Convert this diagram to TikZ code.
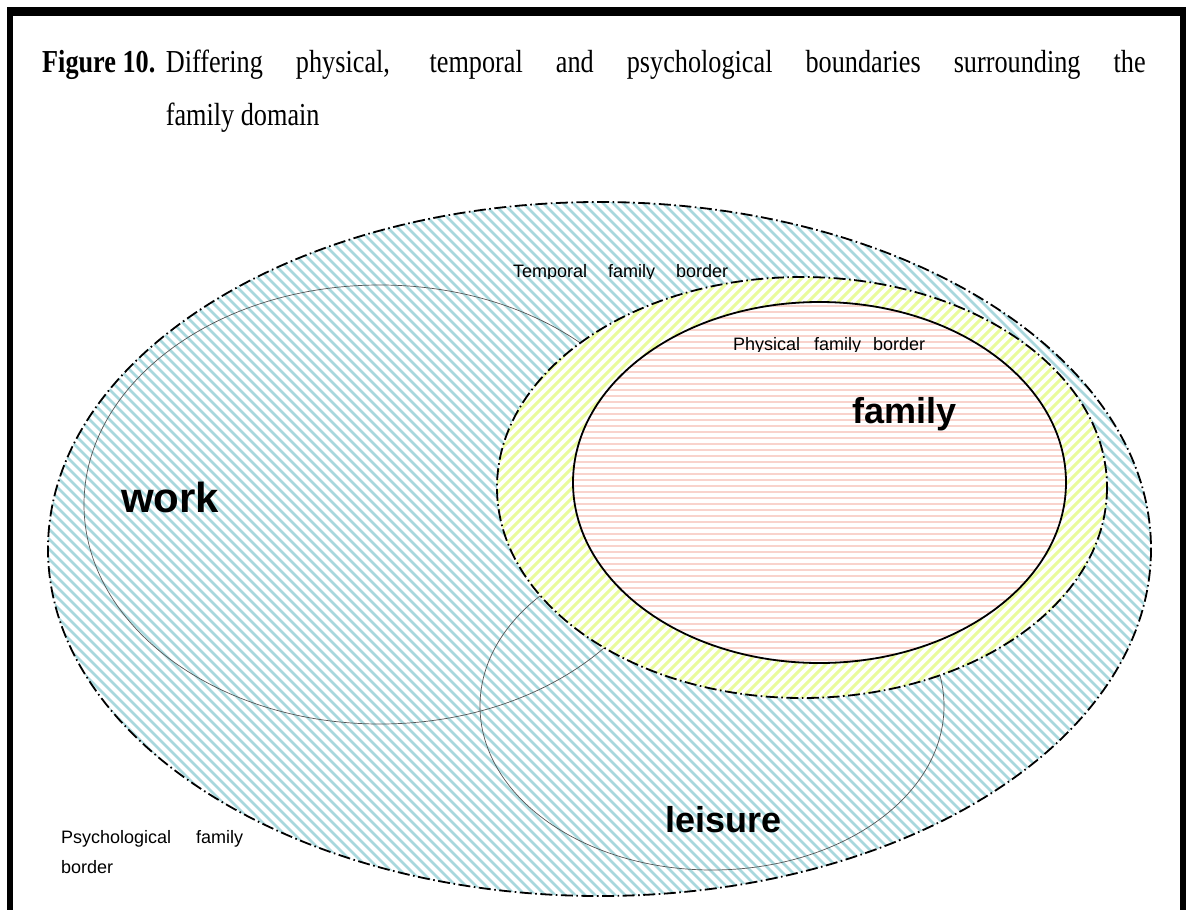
\documentclass[tikz,border=0pt]{standalone}
\usepackage{fontspec}
\setmainfont{Liberation Serif}
\newfontfamily\lblfont{Liberation Sans}
\newfontfamily\titlefont[FakeStretch=0.82]{Liberation Serif}
\definecolor{hblue}{HTML}{A9D8DD}
\definecolor{hyellow}{HTML}{EAFB9C}
\definecolor{hpink}{HTML}{F9D3CC}
\definecolor{thin}{HTML}{555555}
\newlength\figlabw
\tikzset{
  dashdot/.style={line width=1.8pt, dash pattern=on 12pt off 3.5pt on 1.6pt off 3.5pt},
  thinline/.style={draw=thin, line width=0.7pt},
  small/.style={inner sep=0pt, anchor=base west, font=\lblfont\fontsize{18}{22}\selectfont},
  big/.style={inner sep=0pt, anchor=base west, font=\lblfont\bfseries\fontsize{36}{40}\selectfont},
  ttl/.style={inner sep=0pt, anchor=base west, font=\titlefont\fontsize{32}{40}\selectfont},
}
\begin{document}
\settowidth\figlabw{\titlefont\bfseries\fontsize{32}{40}\selectfont Figure 10.}
\begin{tikzpicture}[x=1pt,y=-1pt]
\useasboundingbox (0,0) rectangle (1186,910);
\fill[white] (0,0) rectangle (1186,910);
% frame
\fill[black] (7,7) rectangle (1186,16);
\fill[black] (7,7) rectangle (13,910);
\fill[black] (1180,7) rectangle (1186,910);
% title
\node[ttl, font=\titlefont\bfseries\fontsize{32}{40}\selectfont] (figlab) at (42,72) {Figure 10.};
\node[ttl, xshift=10pt] (title1) at (figlab.base east)
  {\makebox[\dimexpr1103pt-\figlabw-10pt\relax][s]{Differing physical, temporal and psychological boundaries surrounding the}};
\node[ttl, yshift=-53pt] (title2) at (title1.base west) {family domain};
% outer psychological ellipse
\begin{scope}
  \clip (599.5,549) ellipse [x radius=551.5, y radius=347];
  \foreach \a in {-800,-790,...,1200} {
    \draw[hblue, line width=2.8pt] (\a,150) -- (\a+800,950);
  }
\end{scope}
\draw[dashdot] (599.5,549) ellipse [x radius=551.5, y radius=347];
% work and leisure
\draw[thinline] (380,504.5) ellipse [x radius=296, y radius=219.5];
\draw[thinline] (712,706) ellipse [x radius=232, y radius=164];
% labels under temporal
\begin{scope}
  \clip (500,240) rectangle (760,278.5);
  \node[small] (temporal) at (513,277) {Temporal\hspace{21pt}family\hspace{21pt}border};
\end{scope}
\node[small] (psych1) at (61,843) {Psychological\hspace{25pt}family};
\node[small] (psych2) at (61,873) {border};
\node[big, font=\lblfont\bfseries\fontsize{42}{46}\selectfont] (work) at (121,512) {work};
\node[big] (leisure) at (665,832) {leisure};
% temporal ellipse
\fill[white] (802,487.5) ellipse [x radius=305, y radius=210.5];
\begin{scope}
  \clip (802,487.5) ellipse [x radius=305, y radius=210.5];
  \foreach \a in {200,210,...,1900} {
    \draw[hyellow, line width=3pt] (\a,250) -- (\a-500,750);
  }
\end{scope}
\draw[dashdot] (802,487.5) ellipse [x radius=305, y radius=210.5];
% physical ellipse
\fill[white] (819.5,482.5) ellipse [x radius=246.5, y radius=180.5];
\begin{scope}
  \clip (819.5,482.5) ellipse [x radius=246.5, y radius=180.5];
  \foreach \b in {300,306,...,666} {
    \draw[hpink, line width=2.6pt] (570,\b) -- (1070,\b);
  }
\end{scope}
\draw[line width=1.8pt] (819.5,482.5) ellipse [x radius=246.5, y radius=180.5];
\begin{scope}
  \clip (720,320) rectangle (950,351.5);
  \node[small] (physical) at (733,350) {Physical\hspace{14pt}family\hspace{12pt}border};
\end{scope}
\node[big] (family) at (852,423) {family};
\end{tikzpicture}
\end{document}
